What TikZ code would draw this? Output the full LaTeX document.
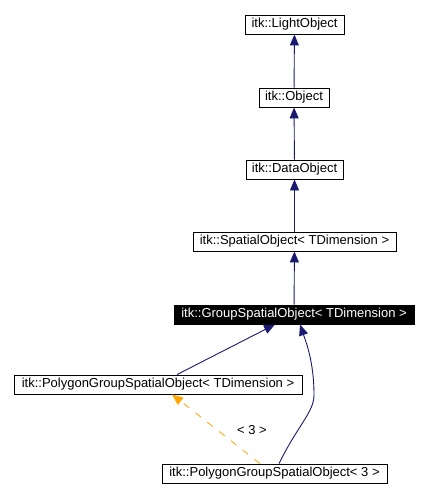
\documentclass[tikz,border=0pt]{standalone}
\usepackage{fontspec}
\setmainfont{Liberation Sans}
\usetikzlibrary{arrows.meta,calc}
\definecolor{edgeblue}{HTML}{191970}
\definecolor{edgeorange}{HTML}{FFA500}
\tikzset{
  cls/.style={draw=black, line width=0.9pt, fill=white, inner sep=0pt, font=\fontsize{13}{15}\selectfont, text=black},
  clsact/.style={cls, fill=black, text=white},
  inh/.style={draw=edgeblue, line width=0.9pt, -{Triangle[length=11pt,width=9pt]}},
  tmpl/.style={draw=edgeorange, line width=0.8pt, dash pattern=on 7pt off 8pt, -{Triangle[length=11pt,width=9pt]}},
  lbl/.style={font=\fontsize{13}{15}\selectfont, text=black, inner sep=0pt}
}
\begin{document}
\begin{tikzpicture}[x=1pt,y=-1pt]
\useasboundingbox (0,0) rectangle (428,499);
\node[cls, minimum width=99pt, minimum height=19pt] (light) at (294.5,24.5) {itk::LightObject};
\node[cls, minimum width=70pt, minimum height=19pt] (obj) at (294,97.5) {itk::Object};
\node[cls, minimum width=97pt, minimum height=19pt] (data) at (294.5,169.5) {itk::DataObject};
\node[cls, minimum width=203pt, minimum height=19pt] (spatial) at (294.5,241.5) {itk::SpatialObject< TDimension >};
\node[clsact, minimum width=240pt, minimum height=19pt] (group) at (294,314.5) {itk::GroupSpatialObject< TDimension >};
\node[cls, minimum width=288pt, minimum height=19pt] (ptd) at (158,384.5) {itk::PolygonGroupSpatialObject< TDimension >};
\node[cls, minimum width=225pt, minimum height=19pt] (p3) at (274.5,473.5) {itk::PolygonGroupSpatialObject< 3 >};

\draw[inh] (obj) -- (light);
\draw[inh] (data) -- (obj);
\draw[inh] (spatial) -- (data);
\draw[inh] (group) -- (spatial);
\draw[inh] ($(ptd.north)+(19,0)$) -- ($(group.south)+(-19,0)$);
\draw[inh] ($(p3.north)+(4.5,0)$) .. controls (298,425) and (314,412) .. (314,395) .. controls (314,362) and (306,342) .. ($(group.south)+(6,0)$);
\draw[tmpl] ($(p3.north)+(-14.5,0)$) -- ($(ptd.south)+(14,0)$);
\node[lbl] (t3) at (252,430) {< 3 >};
\end{tikzpicture}
\end{document}
